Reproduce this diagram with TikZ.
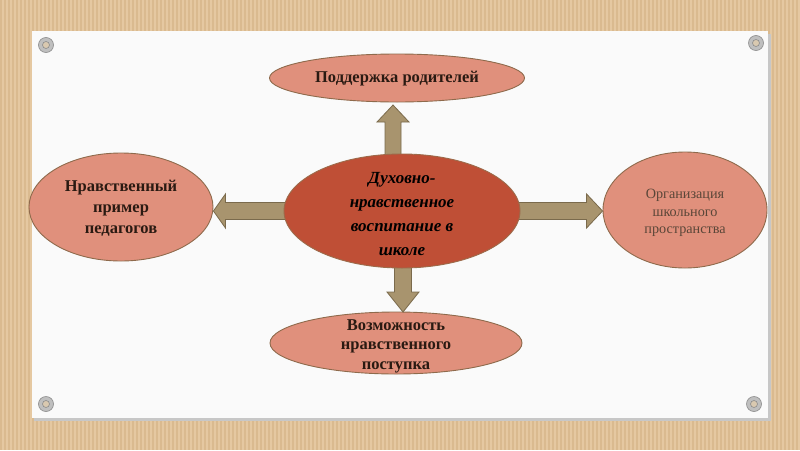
\documentclass[tikz,border=0pt]{standalone}
\usepackage{fontspec}
\setmainfont{Liberation Serif}
\usetikzlibrary{shapes.geometric,calc}
\definecolor{cardA}{HTML}{E5C8A1}
\definecolor{cardB}{HTML}{DABA8F}
\definecolor{salmon}{HTML}{E0907C}
\definecolor{salmonline}{HTML}{8E6A4C}
\definecolor{central}{HTML}{BF4F36}
\definecolor{centralline}{HTML}{9C6A4A}
\definecolor{khaki}{HTML}{A8946E}
\definecolor{khakiline}{HTML}{7A6A4C}
\definecolor{txt}{HTML}{2A1A12}
\definecolor{txtlight}{HTML}{5A4638}
\definecolor{holec}{HTML}{D9C9B0}
\tikzset{
  oval/.style={ellipse, draw=salmonline, line width=0.9pt, fill=salmon, inner sep=0pt},
  centre/.style={ellipse, draw=centralline, line width=0.9pt, fill=central, inner sep=0pt},
  lbl/.style={inner sep=0pt, align=center, text=txt},
  blockarr/.style={draw=khakiline, line width=0.8pt, fill=khaki, line join=miter},
  grommet/.style={circle, draw=gray!85, fill=gray!50, line width=0.7pt, minimum size=15pt, inner sep=0pt},
  hole/.style={circle, fill=holec, draw=gray!90, line width=0.6pt, minimum size=7pt, inner sep=0pt}
}
\begin{document}
\begin{tikzpicture}[x=1pt,y=-1pt]
\useasboundingbox (0,0) rectangle (800,450);
% cardboard background
\fill[cardA] (0,0) rectangle (800,450);
\foreach \i in {0,4,...,800} {\fill[cardB] (\i,0) rectangle (\i+1.5,450);}
% panel with shadow
\fill[black!22] (34,34) rectangle (771,421);
\fill[white!96!gray] (32,31) rectangle (768,418);
% grommets
\foreach \gx/\gy/\n in {46/45/a,756/43/b,46/404/c,754/404/d} {
  \node[grommet] (g\n) at (\gx,\gy) {};
  \node[hole] (h\n) at (\gx,\gy) {};
}
% outer nodes
\node[oval, minimum width=255pt, minimum height=48pt] (top) at (397,78) {};
\node[oval, minimum width=184pt, minimum height=108pt] (left) at (121,207) {};
\node[oval, minimum width=164pt, minimum height=116pt] (right) at (685,210) {};
\node[oval, minimum width=252pt, minimum height=62pt] (bottom) at (396,343) {};
\node[lbl, font=\bfseries\fontsize{16.5}{18}\selectfont] (topT) at ([yshift=-1pt]top.center) {Поддержка родителей};
\node[lbl, font=\bfseries\fontsize{16.5}{21}\selectfont] (leftT) at ([yshift=-1.5pt]left.center) {Нравственный\\пример\\педагогов};
\node[lbl, text=txtlight, font=\fontsize{14.2}{17.5}\selectfont] (rightT) at ([yshift=-3pt]right.center) {Организация\\школьного\\пространства};
\node[lbl, font=\bfseries\fontsize{16.5}{19.5}\selectfont] (bottomT) at ([yshift=-3pt]bottom.center) {Возможность\\нравственного\\поступка};
% arrow coordinates
\coordinate (upS) at (393,165);
\coordinate (upT) at (393,105);
\coordinate (dnS) at (403,258);
\coordinate (dnT) at (403,312);
\coordinate (lfS) at (300,211);
\coordinate (lfT) at (left.east |- lfS);
\coordinate (rtS) at (505,211);
\coordinate (rtT) at (right.west |- rtS);
% block arrows
\draw[blockarr] ($(upS)+(-8,0)$) -- ($(upT)+(-8,17)$) -- ($(upT)+(-16,17)$) -- (upT) -- ($(upT)+(16,17)$) -- ($(upT)+(8,17)$) -- ($(upS)+(8,0)$) -- cycle;
\draw[blockarr] ($(dnS)+(-8.5,0)$) -- ($(dnT)+(-8.5,-20)$) -- ($(dnT)+(-16,-20)$) -- (dnT) -- ($(dnT)+(16,-20)$) -- ($(dnT)+(8.5,-20)$) -- ($(dnS)+(8.5,0)$) -- cycle;
\draw[blockarr] ($(lfS)+(0,-8.5)$) -- ($(lfT)+(12,-8.5)$) -- ($(lfT)+(12,-17)$) -- (lfT) -- ($(lfT)+(12,17)$) -- ($(lfT)+(12,8.5)$) -- ($(lfS)+(0,8.5)$) -- cycle;
\draw[blockarr] ($(rtS)+(0,-8.5)$) -- ($(rtT)+(-16,-8.5)$) -- ($(rtT)+(-16,-17)$) -- (rtT) -- ($(rtT)+(-16,17)$) -- ($(rtT)+(-16,8.5)$) -- ($(rtS)+(0,8.5)$) -- cycle;
% central node
\node[centre, minimum width=236pt, minimum height=114pt] (c) at (402,211) {};
\node[lbl, text=black, font=\bfseries\itshape\fontsize{17}{24.2}\selectfont] (cT) at ([yshift=-3pt]c.center) {Духовно-\\нравственное\\воспитание в\\школе};
\end{tikzpicture}
\end{document}
